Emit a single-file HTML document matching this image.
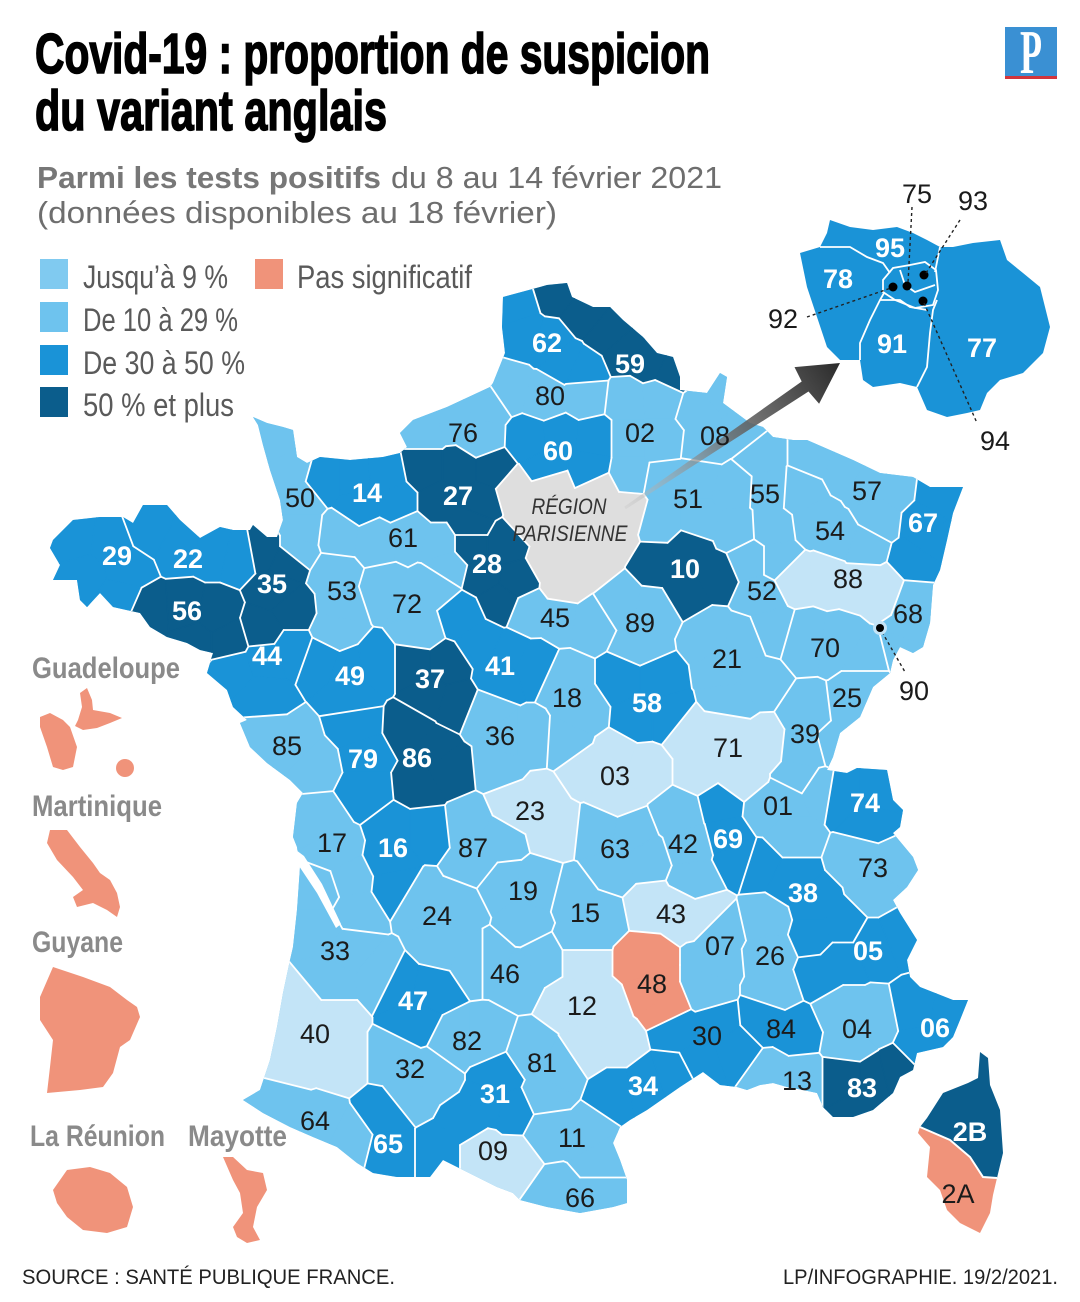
<!DOCTYPE html>
<html><head><meta charset="utf-8">
<style>
html,body{margin:0;padding:0;background:#fff;}
svg{display:block;}
text{font-family:"Liberation Sans",Arial,sans-serif;}
.w{fill:#fff;font-weight:bold;font-size:27px;text-anchor:middle;}
.k{fill:#1b1b1b;font-size:27px;text-anchor:middle;}
</style></head><body>
<svg id="s" width="1080" height="1302" viewBox="0 0 1080 1302" xmlns="http://www.w3.org/2000/svg">
<defs>
<clipPath id="fr"><path id="frp" d="M503,297 L540,287 L547,285 L567,283 L572,297 L593,307 L610,307 L623,320 L643,337 L657,353 L673,357 L680,377 L680,390 L707,393 L720,373 L727,377 L723,403 L750,423 L763,427 L773,437 L793,440 L807,440 L830,450 L853,460 L880,473 L913,477 L930,487 L963,487 L953,513 L947,540 L940,570 L933,585 L930,623 L923,647 L913,653 L900,647 L893,660 L890,673 L873,687 L860,717 L840,733 L833,757 L827,770 L847,773 L857,768 L887,770 L893,800 L903,810 L900,827 L893,833 L913,857 L918,870 L907,887 L893,900 L900,913 L917,940 L907,960 L910,977 L920,987 L953,1000 L968,1000 L960,1020 L953,1037 L943,1047 L917,1053 L913,1070 L900,1077 L893,1093 L873,1110 L853,1117 L833,1117 L823,1107 L817,1093 L803,1090 L787,1087 L773,1083 L760,1085 L747,1090 L737,1087 L720,1085 L703,1072 L680,1087 L647,1110 L630,1120 L620,1127 L613,1143 L620,1160 L627,1180 L627,1203 L613,1207 L580,1213 L547,1207 L520,1200 L513,1193 L497,1187 L463,1170 L443,1160 L430,1177 L397,1177 L373,1173 L357,1163 L337,1147 L313,1137 L290,1127 L263,1113 L243,1100 L260,1090 L270,1060 L277,1027 L283,993 L290,960 L293,947 L297,910 L300,867 L297,847 L293,837 L297,803 L303,793 L290,780 L267,763 L250,747 L240,723 L247,720 L233,707 L227,690 L207,673 L213,653 L200,650 L187,643 L167,637 L150,627 L140,613 L113,607 L100,593 L87,607 L80,600 L77,580 L53,580 L60,565 L50,548 L53,540 L73,520 L100,517 L123,517 L133,523 L143,505 L167,505 L180,520 L200,538 L220,527 L233,530 L250,530 L253,525 L267,537 L277,537 L283,520 L280,500 L270,470 L263,445 L258,425 L253,417 L267,423 L283,427 L293,430 L297,457 L307,463 L320,457 L350,460 L383,457 L400,453 L407,447 L400,433 L413,420 L447,407 L490,387 L493,383 L505,353 L502,327 Z"/></clipPath>
<linearGradient id="ag" gradientUnits="userSpaceOnUse" x1="625" y1="508" x2="840" y2="363">
<stop offset="0" stop-color="#c8c8c8" stop-opacity="0.35"/><stop offset="0.5" stop-color="#6a6a6a" stop-opacity="0.85"/><stop offset="1" stop-color="#2a2a2a"/></linearGradient>
</defs>
<rect width="1080" height="1302" fill="#fff"/>

<!-- Title -->
<text x="35" y="73" font-size="57" font-weight="bold" fill="#000" stroke="#000" stroke-width="1.6" textLength="675" lengthAdjust="spacingAndGlyphs">Covid-19 : proportion de suspicion</text>
<text x="35" y="130" font-size="57" font-weight="bold" fill="#000" stroke="#000" stroke-width="1.6" textLength="352" lengthAdjust="spacingAndGlyphs">du variant anglais</text>

<!-- Subtitle -->
<text x="37" y="188" font-size="31" font-weight="bold" fill="#777" textLength="344" lengthAdjust="spacingAndGlyphs">Parmi les tests positifs</text>
<text x="391" y="188" font-size="31" fill="#6e6e6e" textLength="331" lengthAdjust="spacingAndGlyphs">du 8 au 14 février 2021</text>
<text x="37" y="223" font-size="31" fill="#6e6e6e" textLength="520" lengthAdjust="spacingAndGlyphs">(données disponibles au 18 février)</text>

<!-- Logo -->
<rect x="1005" y="27" width="52" height="49" fill="#3a90d3"/>
<text x="1031" y="73" font-size="62" font-weight="bold" fill="#fff" text-anchor="middle" textLength="22" lengthAdjust="spacingAndGlyphs" style="font-family:'Liberation Serif',serif">P</text>
<rect x="1005" y="76" width="52" height="3" fill="#d2353c"/>

<!-- Legend -->
<rect x="40" y="259" width="28" height="30" fill="#80caf0"/>
<rect x="40" y="302" width="28" height="30" fill="#6ec3ee"/>
<rect x="40" y="345" width="28" height="30" fill="#1a93d7"/>
<rect x="40" y="387" width="28" height="30" fill="#0b5d8c"/>
<rect x="255" y="259" width="28" height="30" fill="#f0937a"/>
<text x="83" y="288" font-size="32" fill="#5a5a5a" textLength="145" lengthAdjust="spacingAndGlyphs">Jusqu’à 9 %</text>
<text x="83" y="331" font-size="32" fill="#5a5a5a" textLength="155" lengthAdjust="spacingAndGlyphs">De 10 à 29 %</text>
<text x="83" y="374" font-size="32" fill="#5a5a5a" textLength="162" lengthAdjust="spacingAndGlyphs">De 30 à 50 %</text>
<text x="83" y="416" font-size="32" fill="#5a5a5a" textLength="151" lengthAdjust="spacingAndGlyphs">50 % et plus</text>
<text x="297" y="288" font-size="32" fill="#5a5a5a" textLength="175" lengthAdjust="spacingAndGlyphs">Pas significatif</text>

<!-- France base -->
<use href="#frp" fill="#6ec3ee"/>
<g id="cells" clip-path="url(#fr)"></g>
<!-- Gironde estuary -->
<path d="M296,850 L304,856 L322,884 L341,924 L336,928 L317,893 L299,866 Z" fill="#fff"/>

<!-- Corsica -->
<path d="M980,1052 L988,1058 L990,1085 L1000,1110 L1003,1153 L997,1178 L983,1177 L970,1157 L950,1140 L920,1127 L927,1118 L943,1093 L968,1083 L978,1078 Z" fill="#0b5d8c"/>
<path d="M920,1127 L950,1140 L970,1157 L983,1177 L997,1178 L993,1195 L990,1213 L980,1233 L960,1223 L947,1210 L940,1190 L927,1177 L930,1147 L918,1133 Z" fill="#f0937a"/>
<path d="M920,1127 L950,1140 L970,1157 L983,1177 L997,1178" fill="none" stroke="#fff" stroke-width="2"/>

<!-- Arrow -->
<polygon points="624.2,506.8 801.7,381.5 794.5,367.1 840,363 819.1,403.7 808.5,391.5 625.8,509.2" fill="url(#ag)"/>

<!-- Ile-de-France inset -->
<path d="M830,220 L850,227 L873,230 L897,227 L913,233 L927,240 L940,247 L953,247 L973,243 L1000,240 L1007,260 L1023,273 L1040,287 L1050,327 L1043,353 L1023,373 L1000,380 L987,393 L980,410 L967,413 L947,417 L927,410 L917,387 L900,383 L873,387 L863,380 L860,360 L840,360 L827,347 L817,317 L807,287 L800,253 L820,247 L827,233 Z" fill="#1a93d7"/>
<g fill="none" stroke="#fff" stroke-width="1.8">
<path d="M820,247 L850,247 L867,257 L883,263 L890,273"/>
<path d="M940,247 L937,262 L935,272"/>
<path d="M937,300 L933,310 L930,333 L927,367 L917,387"/>
<path d="M884,293 L880,300 L870,320 L860,343 L860,360"/>
<path d="M880,300 L900,300 L910,307 L927,310"/>
<path d="M883,280 L893,268 L910,265 L925,262 L936,270 L938,290 L933,305 L915,308 L895,300 L883,292 Z"/>
<path d="M900,270 L905,285 L915,292 L935,285"/>
</g>
<g fill="#000">
<circle cx="893" cy="287" r="4.5"/><circle cx="907" cy="286" r="4.5"/><circle cx="924" cy="275" r="4.5"/><circle cx="923" cy="301" r="4.5"/>
</g>
<g stroke="#222" stroke-width="1.4" stroke-dasharray="3,3" fill="none">
<path d="M912,207 L908,283"/>
<path d="M960,220 L926,273"/>
<path d="M807,317 L891,288"/>
<path d="M924,303 L977,423"/>
<path d="M882,632 L905,672"/>
</g>
<text class="w" x="890" y="257">95</text>
<text class="w" x="838" y="288">78</text>
<text class="w" x="892" y="353">91</text>
<text class="w" x="982" y="357">77</text>
<text class="k" x="917" y="203">75</text>
<text class="k" x="973" y="210">93</text>
<text class="k" x="783" y="328">92</text>
<text class="k" x="995" y="450">94</text>

<!-- 90 dot -->
<circle cx="880" cy="628" r="7" fill="#c3e4f7"/>
<circle cx="880" cy="628" r="4" fill="#000"/>
<text class="k" x="914" y="700">90</text>

<!-- Region parisienne label -->
<text x="569" y="514" font-size="22" font-style="italic" fill="#333" text-anchor="middle" textLength="75" lengthAdjust="spacingAndGlyphs">RÉGION</text>
<text x="570" y="541" font-size="22" font-style="italic" fill="#333" text-anchor="middle" textLength="115" lengthAdjust="spacingAndGlyphs">PARISIENNE</text>

<!-- Department labels -->
<g>
<text class="w" x="547" y="352">62</text><text class="w" x="630" y="373">59</text>
<text class="k" x="550" y="405">80</text><text class="k" x="463" y="442">76</text>
<text class="w" x="558" y="460">60</text><text class="k" x="640" y="442">02</text>
<text class="k" x="715" y="445">08</text><text class="k" x="300" y="507">50</text>
<text class="w" x="367" y="502">14</text><text class="w" x="458" y="505">27</text>
<text class="k" x="688" y="508">51</text><text class="k" x="765" y="503">55</text>
<text class="k" x="867" y="500">57</text><text class="w" x="923" y="532">67</text>
<text class="k" x="830" y="540">54</text><text class="w" x="117" y="565">29</text>
<text class="w" x="188" y="568">22</text><text class="k" x="403" y="547">61</text>
<text class="w" x="487" y="573">28</text><text class="w" x="685" y="578">10</text>
<text class="k" x="848" y="588">88</text><text class="w" x="272" y="593">35</text>
<text class="w" x="187" y="620">56</text><text class="k" x="342" y="600">53</text>
<text class="k" x="407" y="613">72</text><text class="k" x="762" y="600">52</text>
<text class="k" x="555" y="627">45</text><text class="k" x="640" y="632">89</text>
<text class="k" x="908" y="623">68</text><text class="w" x="267" y="665">44</text>
<text class="w" x="350" y="685">49</text><text class="w" x="430" y="688">37</text>
<text class="w" x="500" y="675">41</text><text class="k" x="567" y="707">18</text>
<text class="w" x="647" y="712">58</text><text class="k" x="727" y="668">21</text>
<text class="k" x="825" y="657">70</text><text class="k" x="847" y="707">25</text>
<text class="k" x="287" y="755">85</text><text class="w" x="363" y="768">79</text>
<text class="w" x="417" y="767">86</text><text class="k" x="500" y="745">36</text>
<text class="k" x="615" y="785">03</text><text class="k" x="728" y="757">71</text>
<text class="k" x="805" y="743">39</text><text class="k" x="778" y="815">01</text>
<text class="w" x="865" y="812">74</text><text class="k" x="530" y="820">23</text>
<text class="k" x="332" y="852">17</text><text class="w" x="393" y="857">16</text>
<text class="k" x="473" y="857">87</text><text class="k" x="615" y="858">63</text>
<text class="k" x="683" y="853">42</text><text class="w" x="728" y="848">69</text>
<text class="k" x="873" y="877">73</text><text class="w" x="803" y="902">38</text>
<text class="k" x="523" y="900">19</text><text class="k" x="437" y="925">24</text>
<text class="k" x="585" y="922">15</text><text class="k" x="671" y="923">43</text>
<text class="k" x="720" y="955">07</text><text class="k" x="770" y="965">26</text>
<text class="w" x="868" y="960">05</text><text class="k" x="335" y="960">33</text>
<text class="k" x="505" y="983">46</text><text class="w" x="413" y="1010">47</text>
<text class="k" x="582" y="1015">12</text><text class="k" x="652" y="993">48</text>
<text class="k" x="707" y="1045">30</text><text class="k" x="781" y="1038">84</text>
<text class="k" x="857" y="1038">04</text><text class="w" x="935" y="1037">06</text>
<text class="k" x="315" y="1043">40</text><text class="k" x="467" y="1050">82</text>
<text class="k" x="542" y="1072">81</text><text class="k" x="410" y="1078">32</text>
<text class="w" x="495" y="1103">31</text><text class="w" x="643" y="1095">34</text>
<text class="k" x="797" y="1090">13</text><text class="w" x="862" y="1097">83</text>
<text class="k" x="315" y="1130">64</text><text class="w" x="388" y="1153">65</text>
<text class="k" x="493" y="1160">09</text><text class="k" x="572" y="1147">11</text>
<text class="k" x="580" y="1207">66</text>
<text class="w" x="970" y="1141">2B</text><text class="k" x="958" y="1203">2A</text>
</g>

<!-- Overseas -->
<g font-weight="bold" font-size="30" fill="#8a8a8a">
<text x="32" y="678" textLength="148" lengthAdjust="spacingAndGlyphs">Guadeloupe</text>
<text x="32" y="816" textLength="130" lengthAdjust="spacingAndGlyphs">Martinique</text>
<text x="32" y="952" textLength="91" lengthAdjust="spacingAndGlyphs">Guyane</text>
<text x="30" y="1146" textLength="135" lengthAdjust="spacingAndGlyphs">La Réunion</text>
<text x="188" y="1146" textLength="99" lengthAdjust="spacingAndGlyphs">Mayotte</text>
</g>
<g fill="#f0937a">
<path d="M40,717 L50,713 L63,720 L70,727 L77,747 L73,767 L63,770 L53,767 L47,747 L40,727 Z"/>
<path d="M80,693 L87,688 L92,700 L93,710 L110,713 L122,718 L110,723 L97,728 L83,730 L75,726 L78,720 L82,707 Z"/>
<circle cx="125" cy="768" r="9"/>
<path d="M50,830 L67,830 L80,847 L93,863 L100,873 L110,880 L117,893 L120,907 L117,917 L107,910 L93,903 L77,907 L73,897 L83,890 L73,877 L57,860 L47,843 Z"/>
<path d="M53,967 L83,977 L110,987 L127,1000 L137,1007 L140,1017 L130,1040 L120,1047 L113,1073 L103,1087 L80,1090 L47,1093 L50,1067 L53,1040 L40,1020 L40,997 Z"/>
<path d="M53,1190 L67,1170 L90,1167 L110,1173 L127,1187 L133,1207 L127,1227 L107,1233 L83,1230 L67,1217 L57,1203 Z"/>
<path d="M223,1157 L233,1157 L247,1170 L263,1173 L267,1190 L257,1207 L253,1227 L260,1240 L247,1243 L237,1237 L233,1227 L243,1213 L240,1193 L233,1180 Z"/>
</g>

<!-- Footer -->
<text x="22" y="1284" font-size="21" fill="#222" textLength="373" lengthAdjust="spacingAndGlyphs">SOURCE : SANTÉ PUBLIQUE FRANCE.</text>
<text x="783" y="1284" font-size="21" fill="#222" textLength="275" lengthAdjust="spacingAndGlyphs">LP/INFOGRAPHIE. 19/2/2021.</text>
</svg>
<script>
(function(){
var COL={L:'#6ec3ee',V:'#c3e4f7',M:'#1a93d7',D:'#0b5d8c',S:'#f0937a',G:'#dedede'};
var DEP={
'62':['M',[[515,305],[525,335],[550,343],[565,362],[583,370]]],
'59':['D',[[557,292],[585,314],[608,333],[625,352],[650,362],[672,372]]],
'80':['L',[[510,388],[545,397],[585,395]]],
'76':['L',[[425,428],[455,420],[485,405],[480,438]]],
'60':['M',[[530,440],[560,438],[595,440],[545,468],[590,468]]],
'02':['L',[[628,400],[660,398],[628,440],[660,440],[628,475]]],
'08':['L',[[700,410],[720,392],[742,432],[705,445]]],
'51':['L',[[665,482],[700,478],[732,488],[662,520],[700,520],[735,530]]],
'55':['L',[[760,455],[770,490],[772,528],[778,560]]],
'57':['L',[[815,455],[845,468],[870,485],[895,492],[880,515]]],
'54':['L',[[800,492],[815,522],[840,540],[862,548]]],
'67':['M',[[935,497],[922,520],[930,540],[915,562]]],
'88':['V',[[795,577],[828,575],[860,580],[885,590]]],
'68':['L',[[912,600],[912,630],[905,650]]],
'10':['D',[[660,565],[690,550],[715,575],[685,592]]],
'52':['L',[[750,560],[760,595],[770,630]]],
'70':['L',[[805,640],[840,645],[865,660]]],
'25':['L',[[865,682],[850,710],[835,742]]],
'21':['L',[[710,635],[745,640],[725,670],[757,680],[730,700]]],
'89':['L',[[620,603],[655,610],[640,645]]],
'45':['L',[[530,612],[560,617],[590,622]]],
'GP':['G',[[515,490],[550,485],[600,490],[625,510],[530,522],[570,520],[610,535],[550,560],[590,565],[565,585]]],
'27':['D',[[425,470],[460,470],[492,470],[440,500],[480,500],[470,525]]],
'28':['D',[[470,545],[505,545],[485,575],[515,580],[500,600]]],
'14':['M',[[325,480],[355,480],[385,478],[360,505],[395,500]]],
'50':['L',[[275,440],[290,470],[300,500],[300,530],[295,550]]],
'61':['L',[[340,535],[375,540],[410,535],[440,545],[447,566]]],
'72':['L',[[385,590],[410,600],[435,585],[420,630]]],
'53':['L',[[335,575],[340,605],[335,630]]],
'35':['D',[[265,550],[287,560],[275,590],[292,610],[262,630]]],
'22':['M',[[150,530],[180,545],[215,550],[238,555]]],
'29':['M',[[75,540],[110,545],[125,568],[85,575],[118,598]]],
'56':['D',[[150,612],[185,610],[215,615],[228,640],[195,640]]],
'44':['M',[[235,670],[265,660],[292,650],[262,695]]],
'49':['M',[[320,660],[350,670],[375,665],[350,695]]],
'37':['D',[[415,665],[445,665],[430,695],[455,703]]],
'41':['M',[[462,617],[480,642],[510,655],[532,665],[500,675]]],
'18':['L',[[565,680],[580,710],[565,742]]],
'58':['M',[[625,680],[655,680],[640,715],[665,715]]],
'39':['L',[[810,715],[805,750],[800,780]]],
'85':['L',[[265,737],[295,745],[315,765]]],
'79':['M',[[355,727],[365,755],[365,790]]],
'86':['D',[[410,730],[432,750],[420,785],[447,770]]],
'36':['L',[[485,715],[505,740],[532,740],[500,765]]],
'03':['V',[[585,770],[615,760],[645,770],[615,795]]],
'71':['V',[[690,735],[725,730],[760,745],[700,770],[740,780]]],
'01':['L',[[765,810],[790,800],[815,790],[790,835]]],
'74':['M',[[845,795],[875,795],[870,820]]],
'23':['V',[[515,805],[540,800],[555,825]]],
'17':['L',[[320,820],[335,850],[350,880],[355,910]]],
'16':['M',[[395,830],[425,830],[390,860],[395,885]]],
'87':['L',[[470,825],[495,840],[475,865]]],
'63':['L',[[600,830],[630,835],[615,870],[645,860]]],
'42':['L',[[680,815],[690,845],[695,880]]],
'69':['M',[[722,805],[728,835],[738,858]]],
'73':['L',[[860,860],[890,865],[875,890]]],
'38':['M',[[760,865],[790,880],[815,905],[840,925],[815,935]]],
'19':['L',[[500,885],[535,890],[525,920]]],
'24':['L',[[420,900],[460,905],[440,945],[475,960]]],
'15':['L',[[575,900],[600,915],[580,940]]],
'43':['V',[[650,905],[680,910],[705,915]]],
'07':['L',[[720,930],[715,960],[705,990]]],
'26':['L',[[765,920],[770,955],[775,990]]],
'05':['M',[[840,960],[875,945],[900,935],[820,975]]],
'33':['L',[[320,890],[320,930],[350,950],[330,980],[380,975]]],
'46':['L',[[490,960],[520,975],[545,960]]],
'47':['M',[[400,985],[430,990],[415,1020]]],
'12':['V',[[580,960],[570,1000],[600,1010],[615,1045],[590,1050]]],
'48':['S',[[645,960],[655,990],[668,1005]]],
'30':['M',[[680,1030],[715,1025],[735,1050],[700,1062]]],
'84':['M',[[765,1020],[795,1030]]],
'04':['L',[[840,1010],[870,1020],[850,1040]]],
'06':['M',[[920,1010],[945,1015],[925,1045]]],
'40':['V',[[300,1005],[330,1020],[300,1055],[340,1060]]],
'82':['L',[[455,1040],[485,1040]]],
'81':['L',[[530,1055],[560,1070],[545,1095]]],
'32':['L',[[395,1060],[430,1075],[410,1095]]],
'31':['M',[[500,1075],[490,1105],[465,1125],[440,1150],[512,1110]]],
'34':['M',[[615,1090],[645,1085],[675,1075]]],
'13':['L',[[770,1075],[800,1080]]],
'83':['D',[[845,1080],[875,1080],[860,1105],[895,1075]]],
'64':['L',[[285,1115],[320,1125],[350,1140]]],
'65':['M',[[385,1115],[390,1150]]],
'09':['V',[[480,1150],[510,1160]]],
'11':['L',[[550,1130],[585,1135],[600,1160]]],
'66':['L',[[560,1195],[600,1195]]]
};
var seeds=[];
for(var k in DEP){var c=DEP[k][0],pts=DEP[k][1];for(var m=0;m<pts.length;m++)seeds.push({x:pts[m][0],y:pts[m][1],d:k,c:c});}
function clip(poly,ax,ay,cc,lab){
  var out=[],n=poly.length;
  for(var q=0;q<n;q++){
    var a=poly[q],b=poly[(q+1)%n];
    var fa=ax*a[0]+ay*a[1]-cc, fb=ax*b[0]+ay*b[1]-cc;
    if(fa<=0){
      out.push([a[0],a[1],a[2]]);
      if(fb>0){var t=fa/(fa-fb);out.push([a[0]+t*(b[0]-a[0]),a[1]+t*(b[1]-a[1]),lab]);}
    } else if(fb<=0){
      var t2=fa/(fa-fb);out.push([a[0]+t2*(b[0]-a[0]),a[1]+t2*(b[1]-a[1]),a[2]]);
    }
  }
  return out;
}
var fills='',lines='';
for(var i=0;i<seeds.length;i++){
  var si=seeds[i];
  var poly=[[-50,-50,-1],[1130,-50,-1],[1130,1350,-1],[-50,1350,-1]];
  for(var j=0;j<seeds.length;j++){
    if(j===i)continue;var sj=seeds[j];
    var ax=sj.x-si.x,ay=sj.y-si.y;
    var cc=(sj.x*sj.x+sj.y*sj.y-si.x*si.x-si.y*si.y)/2;
    poly=clip(poly,ax,ay,cc,j);
    if(poly.length<3)break;
  }
  if(poly.length<3)continue;
  var d='M'+poly.map(function(p){return p[0].toFixed(1)+','+p[1].toFixed(1);}).join('L')+'Z';
  fills+='<path d="'+d+'" fill="'+COL[si.c]+'" stroke="'+COL[si.c]+'" stroke-width="1.2"/>';
  for(var e=0;e<poly.length;e++){
    var p=poly[e],r=poly[(e+1)%poly.length],lb=p[2];
    if(lb>i && seeds[lb].d!==si.d){
      lines+='<line x1="'+p[0].toFixed(1)+'" y1="'+p[1].toFixed(1)+'" x2="'+r[0].toFixed(1)+'" y2="'+r[1].toFixed(1)+'"/>';
    }
  }
}
document.getElementById('cells').innerHTML=fills+'<g stroke="#fff" stroke-width="1.8" stroke-linecap="round">'+lines+'</g>';
})();
</script>
</body></html>
